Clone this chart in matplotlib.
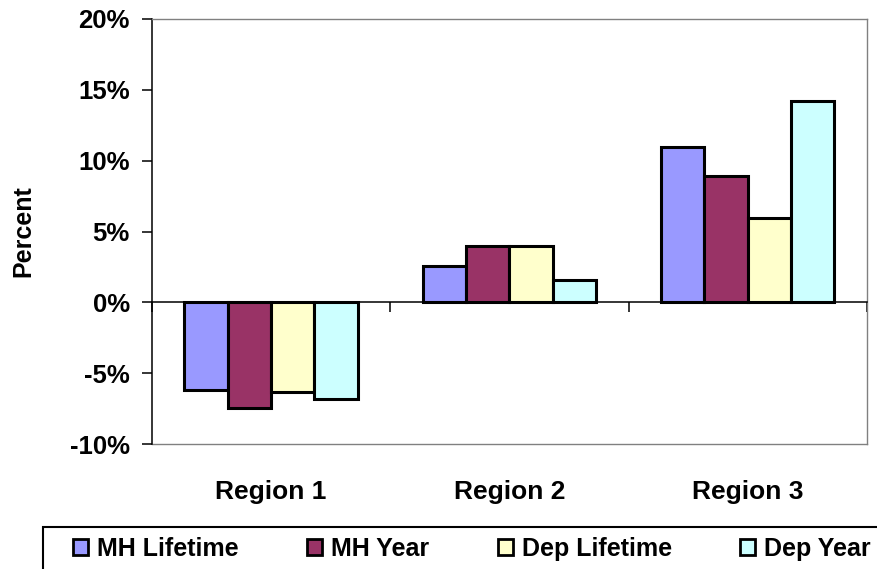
import matplotlib
matplotlib.use("Agg")
import matplotlib.pyplot as plt
import numpy as np
from matplotlib.patches import Patch, Rectangle
from matplotlib.ticker import FuncFormatter

plt.rcParams['font.family'] = ['Liberation Sans', 'DejaVu Sans']
plt.rcParams['font.weight'] = 'bold'

# Percent change by region
regions = ['Region 1', 'Region 2', 'Region 3']
series = ['MH Lifetime', 'MH Year', 'Dep Lifetime', 'Dep Year']
mh_lifetime = [-6.2, 2.55, 11.0]
mh_year = [-7.45, 3.95, 8.9]
dep_lifetime = [-6.35, 3.95, 5.95]
dep_year = [-6.8, 1.55, 14.2]
colors = ['#9999FF', '#993366', '#FFFFCC', '#CCFFFF']

values = [mh_lifetime, mh_year, dep_lifetime, dep_year]

fig = plt.figure(figsize=(8.78, 5.69), dpi=100)
ax = fig.add_axes([152 / 878, 1 - 444 / 569, 715 / 878, 425 / 569])

x = np.arange(len(regions))
width = 1 / 5.5
for i, (name, vals, c) in enumerate(zip(series, values, colors)):
    ax.bar(x + (i - 1.5) * width, vals, width, color=c, edgecolor='black',
           linewidth=2.2, label=name, zorder=3)

ax.set_xlim(-0.5, 2.5)
ax.set_ylim(-10, 20)
ax.set_yticks(np.arange(-10, 21, 5))
ax.yaxis.set_major_formatter(FuncFormatter(lambda v, p: f'{v:.0f}%'))
ax.tick_params(axis='y', length=7, width=1.1, pad=9, labelsize=18.5)
ax.set_ylabel('Percent', fontsize=18, fontweight='bold', labelpad=25)

# category axis crosses at zero, ticks between groups
ax.spines['bottom'].set_position(('data', 0))
ax.spines['bottom'].set_linewidth(1.1)
ax.set_xticks([-0.5, 0.5, 1.5, 2.5])
ax.set_xticklabels([])
ax.tick_params(axis='x', length=7, width=1.1, direction='out')
ax.spines['left'].set_linewidth(1.1)
for s in ['top', 'right']:
    ax.spines[s].set_color('#808080')
    ax.spines[s].set_linewidth(1.0)

# region names along the bottom of the plot area
sec = ax.secondary_xaxis(0)
sec.set_xticks(x)
sec.set_xticklabels(regions, fontsize=19, fontweight='bold')
sec.tick_params(length=0, pad=26)
sec.spines['bottom'].set_color('#808080')
sec.spines['bottom'].set_linewidth(1.0)

# legend box runs off the right and bottom edges
fig.patches.append(Rectangle((43 / 878, -0.1), 1.0, 0.1 + 42 / 569,
                             transform=fig.transFigure, facecolor='none',
                             edgecolor='black', linewidth=1.5))
handles = [Patch(facecolor=c, edgecolor='black', linewidth=2.0, label=n)
           for n, c in zip(series, colors)]
leg = fig.legend(handles=handles, loc='center left', ncol=4,
                 bbox_to_anchor=(73 / 878, 1 - 549 / 569),
                 borderaxespad=0, frameon=False, borderpad=0,
                 handlelength=0.6, handleheight=0.6, handletextpad=0.35,
                 columnspacing=2.75,
                 prop={'size': 18, 'weight': 'bold'})

fig.savefig('out.png', dpi=100)
